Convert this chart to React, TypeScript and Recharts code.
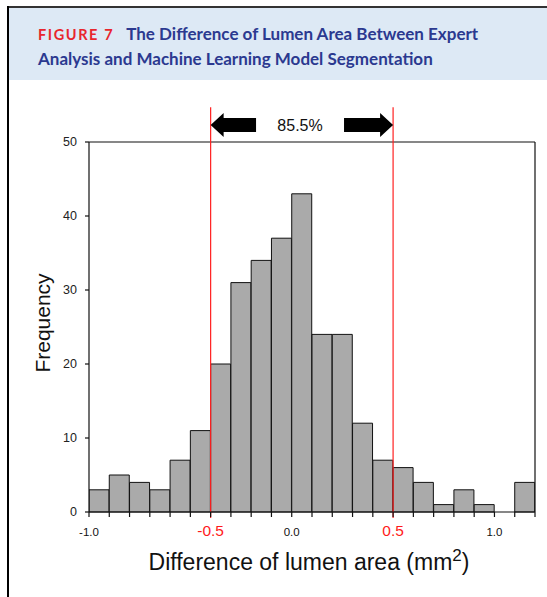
import React from 'react';
import { ComposedChart, Bar, XAxis, YAxis, ReferenceLine } from 'recharts';

// bin centres (bin width 0.1) and counts
const binCenters = [-0.95, -0.85, -0.75, -0.65, -0.55, -0.45, -0.35, -0.25, -0.15, -0.05, 0.05, 0.15, 0.25, 0.35, 0.45, 0.55, 0.65, 0.75, 0.85, 0.95, 1.05, 1.15];
const counts = [3, 5, 4, 3, 7, 11, 20, 31, 34, 37, 43, 24, 24, 12, 7, 6, 4, 1, 3, 1, 0, 4];

const xTicks = [-1.0, -0.9, -0.8, -0.7, -0.6, -0.5, -0.4, -0.3, -0.2, -0.1, 0, 0.1, 0.2, 0.3, 0.4, 0.5, 0.6, 0.7, 0.8, 0.9, 1.0, 1.1, 1.2];
const yTicks = [0, 10, 20, 30, 40, 50];

// tick positions that carry a label, and the text printed there
const plainLabels = [{ at: -1.0, text: '-1.0' }, { at: 0, text: '0.0' }, { at: 1.0, text: '1.0' }];
// the red cut-off markers (the figure prints "-0.5" at the edge of the 20-count bin)
const redLabels = [{ at: -0.4, text: '-0.5' }, { at: 0.5, text: '0.5' }];

const pctLabel = '85.5%';

const data = binCenters.map((x, i) => ({ x, count: counts[i] }));

const FONT = '"Liberation Sans", Arial, sans-serif';

const near = (a: number, b: number) => Math.abs(a - b) < 1e-6;

function XTick(props: any) {
  const { x, y, payload } = props;
  const v = Number(payload.value);
  const red = redLabels.find((l) => near(l.at, v));
  const plain = plainLabels.find((l) => near(l.at, v));
  if (!red && !plain) return null;
  return (
    <text x={x} y={y + 17} textAnchor="middle" fontFamily={FONT}
      fontSize={red ? 15.5 : 11.5} fill={red ? '#ff1a1a' : '#111'}>
      {red ? red.text : plain!.text}
    </text>
  );
}

function YTick(props: any) {
  const { x, y, payload } = props;
  return (
    <text x={x - 2} y={y} textAnchor="end" dominantBaseline="central" fontFamily={FONT}
      fontSize={12.5} fill="#222">
      {payload.value}
    </text>
  );
}

function LeftArrow(props: any) {
  const { x1, y1, x2 } = props;
  const tip = Math.min(x1, x2), end = Math.max(x1, x2);
  const y = y1;
  const pts = [
    [tip, y], [tip + 13, y - 12], [tip + 13, y - 7], [end, y - 7],
    [end, y + 7], [tip + 13, y + 7], [tip + 13, y + 12],
  ].map((p) => p.join(',')).join(' ');
  return <polygon points={pts} fill="#000" />;
}

function RightArrow(props: any) {
  const { x1, y1, x2 } = props;
  const start = Math.min(x1, x2), tip = Math.max(x1, x2);
  const y = y1;
  const pts = [
    [tip, y], [tip - 13, y - 12], [tip - 13, y - 7], [start, y - 7],
    [start, y + 7], [tip - 13, y + 7], [tip - 13, y + 12],
  ].map((p) => p.join(',')).join(' ');
  return <polygon points={pts} fill="#000" />;
}

function XTitle(props: any) {
  const vb = props.viewBox || {};
  const cx = vb.x + vb.width / 2 - 3;
  return (
    <text x={cx} y={vb.y + 58} textAnchor="middle" fontFamily={FONT} fontSize={23} fill="#111">
      Difference of lumen area (mm<tspan dy={-9} fontSize={17}>2</tspan><tspan dy={9}>)</tspan>
    </text>
  );
}

function YTitle(props: any) {
  const vb = props.viewBox || {};
  const cx = vb.x - 7;
  const cy = vb.y + vb.height / 2 - 4;
  return (
    <text x={cx} y={cy} textAnchor="middle" fontFamily={FONT} fontSize={21} fill="#111"
      transform={`rotate(-90, ${cx}, ${cy})`} dominantBaseline="central">
      Frequency
    </text>
  );
}

export default function App() {
  const [lo, hi] = [redLabels[0].at, redLabels[1].at];
  return (
    <div style={{ position: 'absolute', left: 0, top: 0, width: 547, height: 597, background: '#fff', overflow: 'hidden' }}>
      <div style={{ position: 'absolute', left: 7, top: 6, right: 0, height: 2, background: '#333' }} />
      <div style={{ position: 'absolute', left: 7, top: 6, width: 2, bottom: 0, background: '#000' }} />
      <div style={{
        position: 'absolute', left: 9, top: 8, right: 0, height: 72, background: '#dde9f5',
        fontFamily: 'Lato, "Open Sans", sans-serif', fontWeight: 700, fontSize: 17, color: '#2b3990',
        lineHeight: '24px', padding: '14px 0 0 29px', boxSizing: 'border-box',
      }}>
        <div>
          <span style={{ color: '#e8262d', letterSpacing: 1.6, fontSize: 14.5, marginRight: 12 }}>FIGURE 7</span>
          The Difference of Lumen Area Between Expert
        </div>
        <div>Analysis and Machine Learning Model Segmentation</div>
      </div>
      <div style={{ position: 'absolute', left: 0, top: 90 }}>
        <ComposedChart width={547} height={507} data={data} barCategoryGap={0} barGap={0}
          margin={{ top: 52, right: 12, bottom: 55, left: 49 }}>
          <XAxis dataKey="x" type="number" domain={[-1, 1.2]} ticks={xTicks} interval={0}
            tick={<XTick />} tickSize={5} stroke="#111" strokeWidth={1.2} height={30}
            allowDataOverflow label={XTitle} />
          <YAxis type="number" domain={[0, 50]} ticks={yTicks} width={40} tickSize={4} tickMargin={6}
            stroke="#111" strokeWidth={1.2} tick={<YTick />} label={YTitle} />
          <Bar dataKey="count" fill="#aaaaaa" stroke="#111" strokeWidth={1}
            isAnimationActive={false} />
          <ReferenceLine y={50} stroke="#111" strokeWidth={1.2} />
          <ReferenceLine x={1.2} stroke="#111" strokeWidth={1.2} />
          {[lo, hi].map((v) => (
            <ReferenceLine key={v} ifOverflow="visible" stroke="#ff2020" strokeWidth={1.2}
              segment={[{ x: v, y: -0.8 }, { x: v, y: 54.7 }]} />
          ))}
          <ReferenceLine ifOverflow="visible" shape={<LeftArrow />}
            segment={[{ x: lo, y: 52.3 }, { x: -0.176, y: 52.3 }]} />
          <ReferenceLine ifOverflow="visible" shape={<RightArrow />}
            segment={[{ x: 0.258, y: 52.3 }, { x: hi, y: 52.3 }]} />
          <ReferenceLine ifOverflow="visible" stroke="none"
            segment={[{ x: -0.176, y: 52.3 }, { x: 0.258, y: 52.3 }]}
            label={{ value: pctLabel, position: 'center', fontSize: 16, fill: '#111', fontFamily: FONT }} />
        </ComposedChart>
      </div>
    </div>
  );
}
